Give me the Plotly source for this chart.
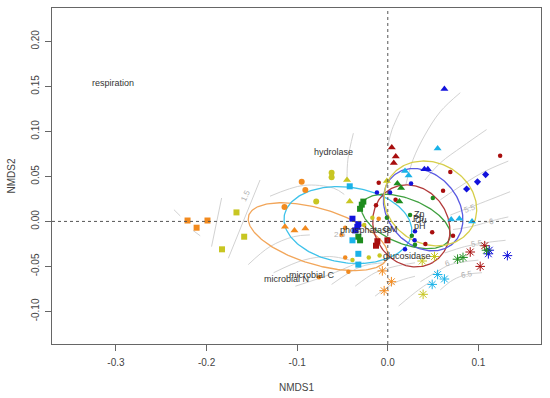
import numpy as np
import plotly.graph_objects as go

# ---------------- data (NMDS scores) ----------------
COLORS = {
    "orange": "#F28A1E", "yellow": "#C8C622", "cyan": "#1AB2E8",
    "darkred": "#A80E0E", "blue": "#1212DC", "green": "#1E8C1E",
}
ELLIPSE_COLORS = {
    "orange": "#F2A65A", "yellow": "#D6CE4A", "cyan": "#3EC2EA",
    "darkred": "#B23A3A", "blue": "#5A5AE2", "green": "#3FA03F",
}

orange_square_x = [-0.221, -0.211, -0.199]
orange_square_y = [0.001, -0.007, 0.001]
orange_circle_x = [-0.095, -0.091, -0.114]
orange_circle_y = [0.044, 0.035, 0.016]
orange_tri_x = [-0.1135, -0.103, -0.091]
orange_tri_y = [-0.006, -0.010, -0.008]
orange_dot_x = [-0.047, -0.051, -0.047, -0.0435, -0.076, -0.010]
orange_dot_y = [-0.007, -0.015, -0.040, -0.056, -0.062, 0.003]
orange_star_x = [-0.006, 0.004, -0.004]
orange_star_y = [-0.055, -0.067, -0.077]

yellow_square_x = [-0.167, -0.1585, -0.183]
yellow_square_y = [0.010, -0.017, -0.031]
yellow_circle_x = [-0.062, -0.062, -0.079]
yellow_circle_y = [0.054, 0.049, 0.022]
yellow_tri_x = [-0.045, -0.042, -0.001]
yellow_tri_y = [0.046, 0.022, 0.045]
yellow_dot_x = [-0.026, -0.021, -0.039, -0.009, -0.017]
yellow_dot_y = [-0.004, -0.040, -0.043, -0.038, 0.004]
yellow_star_x = [0.039, 0.038, 0.0515]
yellow_star_y = [-0.081, -0.044, -0.039]

cyan_square_x = [-0.042, -0.039, -0.0325, -0.0325]
cyan_square_y = [0.039, -0.021, -0.036, -0.048]
cyan_tri_x = [0.055, 0.019, 0.023, 0.070, 0.079, 0.093]
cyan_tri_y = [0.081, 0.056, 0.051, 0.002, 0.003, 0.000]
cyan_star_x = [0.055, 0.0625, 0.049]
cyan_star_y = [-0.059, -0.064, -0.070]

darkred_tri_x = [0.0044, 0.0088, 0.0066]
darkred_tri_y = [0.082, 0.072, 0.065]
darkred_dot_x = [0.124, 0.069, 0.061, -0.010, -0.013, 0.0086, 0.049, 0.072, 0.0415]
darkred_dot_y = [0.073, 0.055, 0.034, 0.043, 0.018, 0.024, -0.012, -0.016, -0.025]
darkred_square_x = [-0.0115, -0.013, -0.0004]
darkred_square_y = [-0.022, -0.027, -0.021]
darkred_star_x = [0.107, 0.091, 0.102]
darkred_star_y = [-0.027, -0.034, -0.050]

blue_tri_x = [0.0625, 0.0404, 0.0442]
blue_tri_y = [0.147, 0.058, 0.058]
blue_dot_x = [0.0257, -0.012, 0.0025, 0.030, 0.0296, 0.019]
blue_dot_y = [0.042, 0.032, 0.032, -0.011, -0.021, -0.031]
blue_diamond_x = [0.108, 0.099, 0.087]
blue_diamond_y = [0.052, 0.044, 0.036]
blue_square_x = [-0.039, -0.0325, -0.0336, -0.036]
blue_square_y = [0.003, -0.003, -0.006, -0.010]
blue_star_x = [0.111, 0.132, 0.112]
blue_star_y = [-0.036, -0.038, -0.032]

green_tri_x = [0.0106, 0.0147, 0.0128]
green_tri_y = [0.042, 0.037, 0.022]
green_dot_x = [0.0497, -0.001, 0.0246, 0.0265, 0.030]
green_dot_y = [0.026, 0.004, 0.007, -0.016, -0.026]
green_square_x = [-0.027, -0.0287, -0.0306, -0.0325, -0.0306]
green_square_y = [0.022, 0.0186, 0.014, -0.017, -0.021]
green_star_x = [0.077, 0.083, 0.109]
green_star_y = [-0.042, -0.040, -0.032]

# group dispersion ellipses: centre x, centre y, semi-axis a, semi-axis b, angle (deg)
ell_groups = ["orange", "cyan", "green", "darkred", "blue", "yellow"]
ell_cx = [-0.077, -0.044, 0.020, 0.026, 0.039, 0.047]
ell_cy = [-0.017, -0.004, 0.000, -0.005, 0.013, 0.020]
ell_a = [0.080, 0.071, 0.052, 0.047, 0.050, 0.053]
ell_b = [0.031, 0.042, 0.025, 0.041, 0.039, 0.045]
ell_ang = [-17, -8, -22, -60, -50, -30]

# fitted-surface contour lines (gray), each a polyline in NMDS units
contours = [
    ([-0.236, -0.229], [0.013, 0.006]),
    ([-0.215, -0.207], [-0.010, -0.016]),
    ([-0.1945, -0.1834], [-0.028, 0.026]),
    ([-0.176, -0.141], [-0.041, 0.046]),
    ([-0.154, -0.130, -0.104, -0.086], [-0.048, -0.028, -0.017, -0.015]),
    ([-0.130, -0.093, -0.060, -0.048], [0.028, 0.040, 0.037, 0.030]),
    ([-0.126, -0.093, -0.064, -0.042], [-0.057, -0.043, -0.039, -0.043]),
    ([-0.102, -0.064, -0.031], [-0.072, -0.059, -0.045]),
    ([-0.038, -0.044, -0.045], [0.098, 0.069, 0.046]),
    ([0.0136, 0.0047, 0.0003], [0.122, 0.102, 0.085]),
    ([0.080, 0.058, 0.041, 0.028, 0.020], [0.143, 0.122, 0.096, 0.069, 0.041]),
    ([0.109, 0.082, 0.058, 0.041], [0.102, 0.083, 0.065, 0.046]),
    ([0.133, 0.104, 0.074, 0.058], [0.067, 0.054, 0.035, 0.024]),
    ([0.135, 0.102, 0.084, 0.069], [0.033, 0.020, 0.013, 0.007]),
    ([0.133, 0.120, 0.091, 0.072], [0.005, 0.002, -0.006, -0.009]),
    ([0.130, 0.105, 0.085, 0.063], [-0.021, -0.024, -0.028, -0.035]),
    ([0.100, 0.069, 0.054, 0.036], [-0.043, -0.048, -0.056, -0.067]),
    ([0.104, 0.087, 0.072, 0.058], [-0.057, -0.059, -0.065, -0.076]),
    ([-0.062, -0.029, -0.003], [-0.070, -0.050, -0.046]),
    ([-0.036, -0.014, 0.008, 0.030], [-0.072, -0.057, -0.050, -0.046]),
    ([-0.014, 0.008, 0.030], [-0.083, -0.068, -0.061]),
    ([0.012, 0.034, 0.047], [-0.094, -0.076, -0.067]),
]
contour_label_text = ["1.5", "2.5", "5.5", "6", "5.5", "6", "6.5"]
contour_label_x = [-0.1566, -0.053, 0.091, 0.115, 0.099, 0.066, 0.087]
contour_label_y = [0.0286, -0.015, 0.014, 0.000, -0.024, -0.047, -0.059]
contour_label_angle = [-65, 0, -20, -10, -10, -15, -10]

# environmental variable labels
env_labels = ["respiration", "hydrolase", "phosphatase", "OM", "glucosidase",
              "microbial C", "microbial N", "Zn", "Cu", "pH", "Pb"]
env_x = [-0.303, -0.060, -0.024, 0.003, 0.021, -0.084, -0.112, 0.035, 0.037, 0.036, 0.034]
env_y = [0.154, 0.077, -0.010, -0.008, -0.038, -0.060, -0.064, 0.008, 0.002, -0.005, 0.004]

x_ticks = [-0.3, -0.2, -0.1, 0.0, 0.1]
x_tick_labels = ["-0.3", "-0.2", "-0.1", "0.0", "0.1"]
y_ticks = [-0.10, -0.05, 0.00, 0.05, 0.10, 0.15, 0.20]
y_tick_labels = ["-0.10", "-0.05", "0.00", "0.05", "0.10", "0.15", "0.20"]

# ---------------- figure ----------------
fig = go.Figure()

for cx, cy in contours:
    fig.add_trace(go.Scatter(x=cx, y=cy, mode="lines",
                             line=dict(color="#D2D2D2", width=1, shape="spline"),
                             hoverinfo="skip", showlegend=False))

for g, cx, cy, a, b, ang in zip(ell_groups, ell_cx, ell_cy, ell_a, ell_b, ell_ang):
    t = np.linspace(0, 2 * np.pi, 200)
    th = np.deg2rad(ang)
    ex = cx + a * np.cos(t) * np.cos(th) - b * np.sin(t) * np.sin(th)
    ey = cy + a * np.cos(t) * np.sin(th) + b * np.sin(t) * np.cos(th)
    fig.add_trace(go.Scatter(x=ex, y=ey, mode="lines",
                             line=dict(color=ELLIPSE_COLORS[g], width=1.3),
                             hoverinfo="skip", showlegend=False))

SHAPES = {
    "square": dict(symbol="square", size=6),
    "circle": dict(symbol="circle", size=6),
    "tri": dict(symbol="triangle-up", size=7),
    "dot": dict(symbol="circle", size=4.5),
    "diamond": dict(symbol="diamond", size=5.5),
    "star": dict(symbol="asterisk-open", size=8),
}
g = globals()
for grp in COLORS:
    for shp in SHAPES:
        kx, ky = f"{grp}_{shp}_x", f"{grp}_{shp}_y"
        if kx not in g:
            continue
        m = dict(SHAPES[shp])
        m["color"] = COLORS[grp]
        if shp == "star":
            m["line"] = dict(color=COLORS[grp], width=1)
        else:
            m["line"] = dict(width=0)
        fig.add_trace(go.Scatter(x=g[kx], y=g[ky], mode="markers", marker=m,
                                 showlegend=False, hoverinfo="skip"))

for txt, x, y, ang in zip(contour_label_text, contour_label_x, contour_label_y, contour_label_angle):
    fig.add_annotation(x=x, y=y, text=txt, showarrow=False, textangle=ang,
                       font=dict(size=8, color="#B0B0B0", family="Liberation Sans"))

for txt, x, y in zip(env_labels, env_x, env_y):
    fig.add_annotation(x=x, y=y, text=txt, showarrow=False,
                       font=dict(size=9, color="#333333", family="Liberation Sans"))

# zero reference lines
fig.add_hline(y=0, line=dict(color="#555555", width=1, dash="dot"))
fig.add_vline(x=0, line=dict(color="#555555", width=1, dash="dot"))

axis_common = dict(showgrid=False, zeroline=False, showline=True, mirror=True,
                   automargin=False,
                   linecolor="#666666", linewidth=1, ticks="outside", ticklen=6,
                   tickcolor="#666666", tickfont=dict(size=10, color="#444444",
                                                       family="Liberation Sans"))
fig.update_xaxes(range=[-0.3706, 0.1691], tickvals=x_ticks, ticktext=x_tick_labels,
                 ticklabelstandoff=3,
                 title=dict(text="NMDS1", font=dict(size=10, color="#444444",
                                                    family="Liberation Sans"), standoff=16),
                 **axis_common)
fig.update_yaxes(range=[-0.1362, 0.2371], tickvals=y_ticks, ticktext=y_tick_labels,
                 tickangle=-90, ticklabelstandoff=2,
                 title=dict(text="NMDS2", font=dict(size=10, color="#444444",
                                                    family="Liberation Sans"), standoff=12),
                 **axis_common)

fig.update_layout(width=550, height=398, margin=dict(l=52, r=9, t=8, b=54),
                  plot_bgcolor="white", paper_bgcolor="white", showlegend=False)

# remove the browser's default 8px page margin so the figure sits at the window corner
fig.write_html("out.html", config={"displayModeBar": False},
               post_script="document.body.style.margin='0px';document.body.style.overflow='hidden';")
